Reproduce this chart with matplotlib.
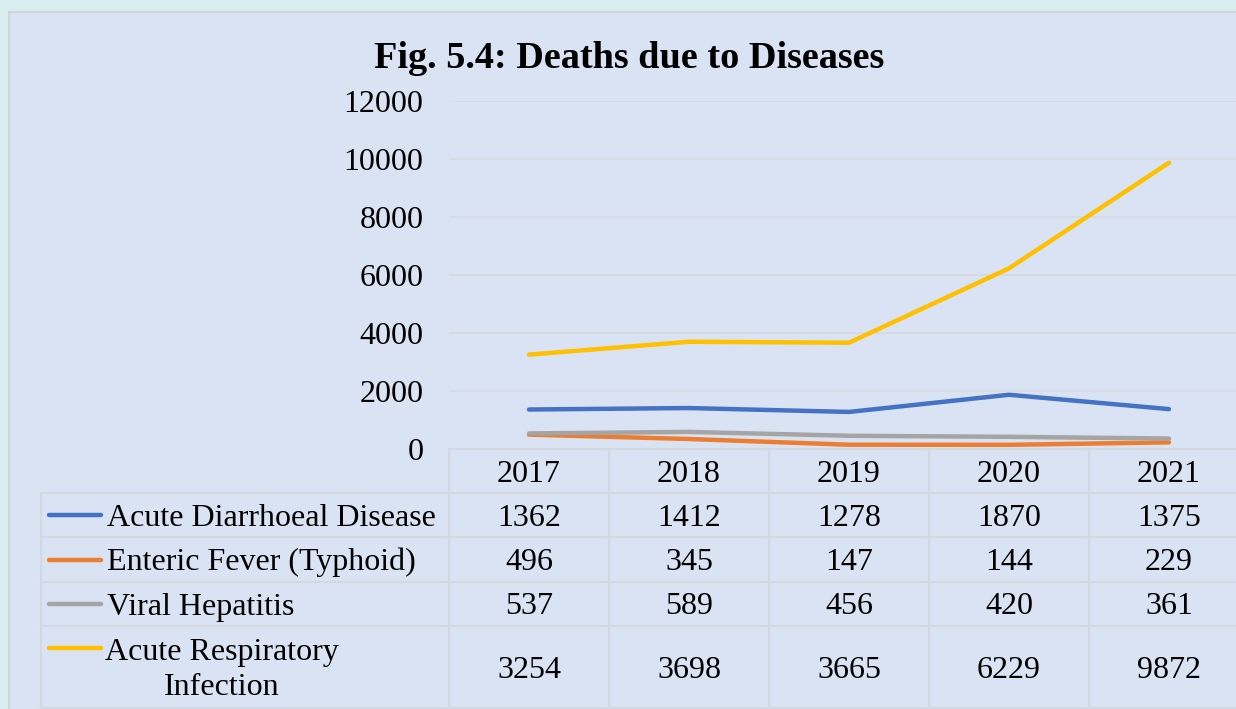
import matplotlib.pyplot as plt
from matplotlib.patches import Rectangle

years = ["2017", "2018", "2019", "2020", "2021"]
names = ["Acute Diarrhoeal Disease", "Enteric Fever (Typhoid)",
         "Viral Hepatitis", "Acute Respiratory\nInfection"]
diarrhoea = [1362, 1412, 1278, 1870, 1375]
typhoid = [496, 345, 147, 144, 229]
hepatitis = [537, 589, 456, 420, 361]
respiratory = [3254, 3698, 3665, 6229, 9872]
series = [diarrhoea, typhoid, hepatitis, respiratory]
colors = ["#4472C4", "#ED7D31", "#A5A5A5", "#FFC000"]
yticks = [0, 2000, 4000, 6000, 8000, 10000, 12000]

W, H = 1236, 709
bg = "#DAE3F3"
grid = "#D4D9E0"
font = "Liberation Serif"
fs = 23
dy = 3  # small downward nudge for table text

fig = plt.figure(figsize=(W / 100, H / 100), dpi=100)
fig.patch.set_facecolor("#D8EFF0")

# full-figure pixel axes for the frame and the data table
pix = fig.add_axes([0, 0, 1, 1])
pix.set_xlim(0, W)
pix.set_ylim(H, 0)
pix.axis("off")
pix.add_patch(Rectangle((9, 12), W + 20, H, facecolor=bg, edgecolor="#CFD6D8", lw=1.5))

# plot area
x0, x1, ytop, ybot = 449, 1249, 101, 449
ax = fig.add_axes([x0 / W, (H - ybot) / H, (x1 - x0) / W, (ybot - ytop) / H])
ax.set_facecolor("none")
xs = list(range(len(years)))
for vals, c in zip(series, colors):
    ax.plot(xs, vals, color=c, lw=3.2, solid_capstyle="round", zorder=3)
ax.set_xlim(-0.5, len(years) - 0.5)
ax.set_ylim(0, 12000)
ax.set_yticks(yticks)
ax.set_yticklabels([str(v) for v in yticks], fontsize=fs, family=font)
ax.set_xticks([])
ax.tick_params(axis="y", length=0, pad=18.5)
ax.grid(axis="y", color=grid, lw=1.2)
for s in ax.spines.values():
    s.set_visible(False)

fig.text(629 / W, 1 - 59 / H, "Fig. 5.4: Deaths due to Diseases", ha="center", va="center",
         fontsize=27.5, fontweight="bold", family=font)

# data table
col_w = (x1 - x0) / len(years)
rows = [449, 493, 537, 582, 626, 708]
for i, y in enumerate(rows):
    left = 41 if i >= 1 else x0
    pix.plot([left, W + 5], [y, y], color=grid, lw=1.5)
for j in range(len(years) + 1):
    xv = x0 + j * col_w
    pix.plot([xv, xv], [rows[0], rows[-1]], color=grid, lw=1.5)
pix.plot([41, 41], [rows[1], rows[-1]], color=grid, lw=1.5)

for j, yr in enumerate(years):
    cx = x0 + (j + 0.5) * col_w
    pix.text(cx, (rows[0] + rows[1]) / 2 + dy, yr, ha="center", va="center", fontsize=fs, family=font)
    for i, vals in enumerate(series):
        pix.text(cx, (rows[i + 1] + rows[i + 2]) / 2 + dy, str(vals[j]), ha="center", va="center",
                 fontsize=fs, family=font)

for i, (name, c) in enumerate(zip(names, colors)):
    if "\n" in name:
        yk = rows[i + 1] + 22
        pix.text(222, (rows[i + 1] + rows[i + 2]) / 2 + dy, name, ha="center", va="center",
                 fontsize=fs, family=font, linespacing=1.3, multialignment="center")
    else:
        yk = (rows[i + 1] + rows[i + 2]) / 2
        pix.text(107, yk + dy, name, ha="left", va="center", fontsize=fs, family=font)
    pix.plot([49, 101], [yk, yk], color=c, lw=3.2, solid_capstyle="round")

fig.savefig("out.png", dpi=100, facecolor=fig.get_facecolor())
